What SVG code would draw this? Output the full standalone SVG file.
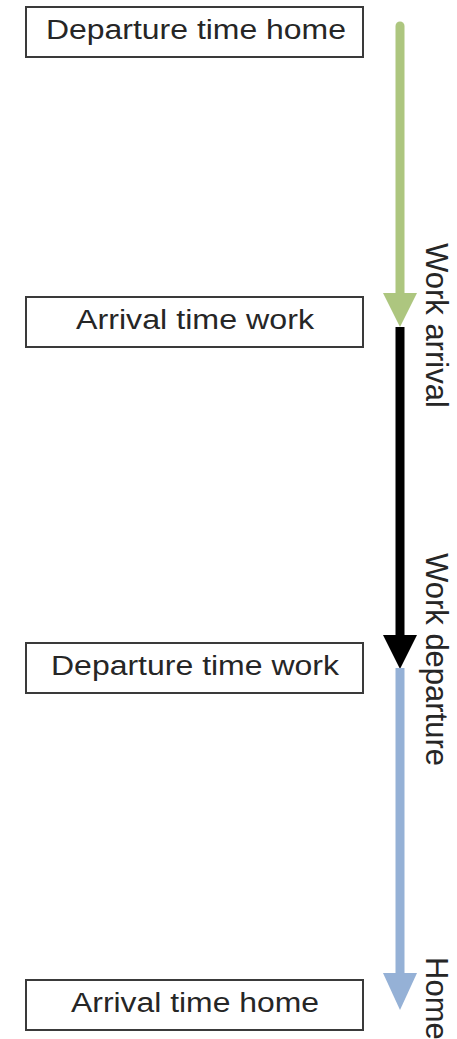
<svg xmlns="http://www.w3.org/2000/svg" width="457" height="1039" viewBox="0 0 457 1039">
  <style>
    .box { fill: #ffffff; stroke: #3a3a3a; stroke-width: 2; }
    .label { font-family: "Liberation Sans", Arial, sans-serif; font-size: 27px; fill: #262626; text-anchor: middle; }
    .side { font-family: "Liberation Sans", Arial, sans-serif; font-size: 31px; fill: #262626; }
    .seg { fill: none; stroke-width: 9; }
  </style>
  <defs>
    <marker id="headGreen" markerUnits="userSpaceOnUse" markerWidth="34" markerHeight="34" viewBox="0 0 34 34" refX="0" refY="17" orient="auto">
      <path d="M0,0 L34,17 L0,34 Z" fill="#adc67f"/>
    </marker>
    <marker id="headBlack" markerUnits="userSpaceOnUse" markerWidth="34" markerHeight="34" viewBox="0 0 34 34" refX="0" refY="17" orient="auto">
      <path d="M0,0 L34,17 L0,34 Z" fill="#000000"/>
    </marker>
    <marker id="headBlue" markerUnits="userSpaceOnUse" markerWidth="37" markerHeight="34" viewBox="0 0 37 34" refX="0" refY="17" orient="auto">
      <path d="M0,0 L37,17 L0,34 Z" fill="#95b1d6"/>
    </marker>
  </defs>

  <!-- timeline arrows -->
  <g id="connectors">
    <line class="seg" x1="400" y1="26" x2="400" y2="293" stroke="#adc67f" stroke-linecap="round" marker-end="url(#headGreen)"/>
    <line class="seg" x1="400" y1="327" x2="400" y2="635" stroke="#000000" marker-end="url(#headBlack)"/>
    <line class="seg" x1="400" y1="668" x2="400" y2="973" stroke="#95b1d6" marker-end="url(#headBlue)"/>
  </g>

  <!-- time boxes -->
  <g id="departure-home">
    <rect class="box" x="26" y="7" width="337" height="50"/>
    <text class="label" x="196" y="39" textLength="300" lengthAdjust="spacingAndGlyphs">Departure time home</text>
  </g>
  <g id="arrival-work">
    <rect class="box" x="26" y="297" width="337" height="50"/>
    <text class="label" x="195" y="329" textLength="238" lengthAdjust="spacingAndGlyphs">Arrival time work</text>
  </g>
  <g id="departure-work">
    <rect class="box" x="26" y="643" width="337" height="50"/>
    <text class="label" x="195" y="675" textLength="288" lengthAdjust="spacingAndGlyphs">Departure time work</text>
  </g>
  <g id="arrival-home">
    <rect class="box" x="26" y="980" width="337" height="50"/>
    <text class="label" x="195" y="1012" textLength="248" lengthAdjust="spacingAndGlyphs">Arrival time home</text>
  </g>

  <!-- segment labels -->
  <g id="labels">
    <text class="side" transform="translate(426,243) rotate(90)">Work arrival</text>
    <text class="side" transform="translate(426,553) rotate(90)">Work departure</text>
    <text class="side" transform="translate(426,957) rotate(90)">Home</text>
  </g>
</svg>
